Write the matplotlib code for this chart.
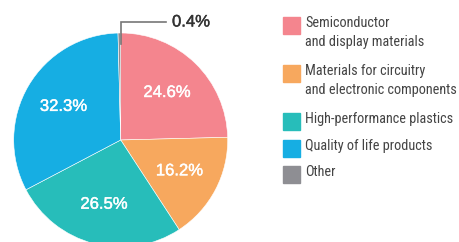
import matplotlib.pyplot as plt
import matplotlib.patheffects as pe
from matplotlib import font_manager
from matplotlib.patches import Rectangle

# data
labels = ["Semiconductor\nand display materials",
          "Materials for circuitry\nand electronic components",
          "High-performance plastics",
          "Quality of life products",
          "Other"]
shares = [24.6, 16.2, 26.5, 32.3, 0.4]
colors = ["#F4858E", "#F7A85E", "#27BDBA", "#16AEE3", "#8E8E93"]

names = {f.name for f in font_manager.fontManager.ttflist}
cond = [n for n in ["Roboto Condensed", "DejaVu Sans Condensed",
                    "Liberation Sans Narrow"] if n in names]

W, H = 459, 242
fig = plt.figure(figsize=(W / 100, H / 100), dpi=100)

# pie centre at (120.7, 140) px from top-left, radius 107 px
cx, cy, r = 120.7, 140, 107
ax = fig.add_axes([(cx - r) / W, (H - cy - r) / H, 2 * r / W, 2 * r / H])

wedges, _, autotexts = ax.pie(
    shares, colors=colors, startangle=90, counterclock=False, radius=1,
    autopct=lambda p: f"{p:.1f}%" if p > 1 else "", pctdistance=0.62,
    wedgeprops=dict(edgecolor="white", linewidth=0.4),
    textprops=dict(color="white", fontsize=12, family="Liberation Sans"))
for t in autotexts:
    t.set_path_effects([pe.withStroke(linewidth=0.3, foreground="white")])
ax.set_xlim(-1, 1)
ax.set_ylim(-1, 1)
ax.axis("off")

# leader for the tiny slice
ly = (cy - 22) / r
ax.plot([0.003, 0.003, (166 - cx) / r], [0.9, ly, ly], color="#777777",
        lw=1.2, clip_on=False, solid_joinstyle="miter")
ax.text((172 - cx) / r, ly, f"{shares[-1]}%", color="#333333", fontsize=12,
        family="Liberation Sans", va="center", ha="left", clip_on=False,
        path_effects=[pe.withStroke(linewidth=0.3, foreground="#333333")])

# legend drawn by hand
fam = cond + ["Roboto", "DejaVu Sans"]
tops = [17, 65, 113, 140, 166]
for lab, col, t in zip(labels, colors, tops):
    fig.patches.append(Rectangle((283 / W, (H - t - 17) / H), 17 / W, 17 / H,
                                 transform=fig.transFigure, color=col))
    fig.text(305 / W, (H - t + 1) / H, lab, color="#444444", fontsize=10.3,
             family=fam, va="top", ha="left", linespacing=1.42)

fig.savefig("out.png", dpi=100)
